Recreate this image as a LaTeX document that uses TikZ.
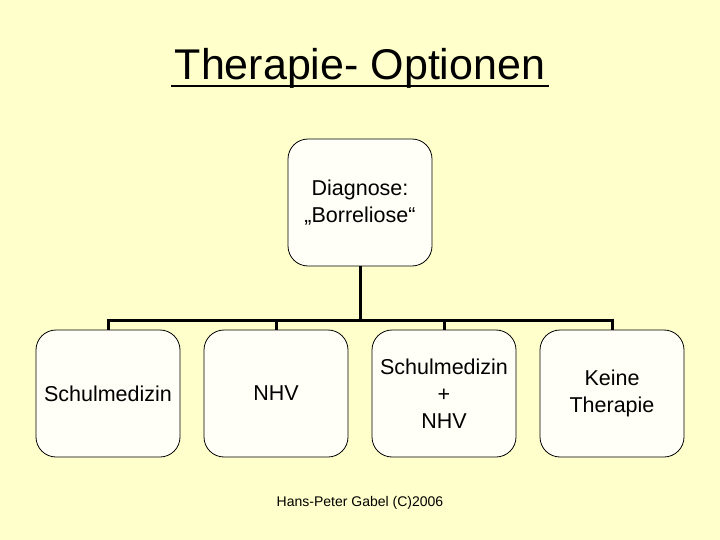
\documentclass[tikz,border=0pt]{standalone}
\usepackage{fontspec}
\setmainfont{Liberation Sans}
\definecolor{folie}{HTML}{FFFFCC}
\definecolor{kasten}{HTML}{FFFFF7}
\begin{document}
\begin{tikzpicture}[x=1pt,y=-1pt,
  box/.style={draw, line width=0.8pt, fill=kasten, rounded corners=20pt,
    minimum width=144pt, minimum height=127pt, align=center,
    font=\fontsize{21.5}{27}\selectfont},
  ast/.style={line width=3pt}]
\path[fill=folie] (0,0) rectangle (720,540);
\node[font=\fontsize{43}{50}\selectfont, anchor=base] (titel) at (360,80) {Therapie- Optionen};
\draw[line width=2.8pt] ([yshift=-6pt]titel.base west) -- ([yshift=-6pt]titel.base east);
\node[box] (d) at (360,202.5) {Diagnose:\\„Borreliose“};
\node[box] (a) at (108,393.5) {Schulmedizin};
\node[box] (b) at (276,393.5) {NHV};
\node[box] (c) at (444,393.5) {Schulmedizin\\+\\NHV};
\node[box] (k) at (612,393.5) {Keine\\Therapie};
\coordinate (m) at (360,320);
\draw[ast] (d) -- (m);
\draw[ast] (a.north) |- (m) -| (k.north);
\draw[ast] (b.north) -- (b.north |- m);
\draw[ast] (c.north) -- (c.north |- m);
\node[font=\fontsize{14}{17}\selectfont] (fuss) at (360,503) {Hans-Peter Gabel (C)2006};
\end{tikzpicture}
\end{document}
